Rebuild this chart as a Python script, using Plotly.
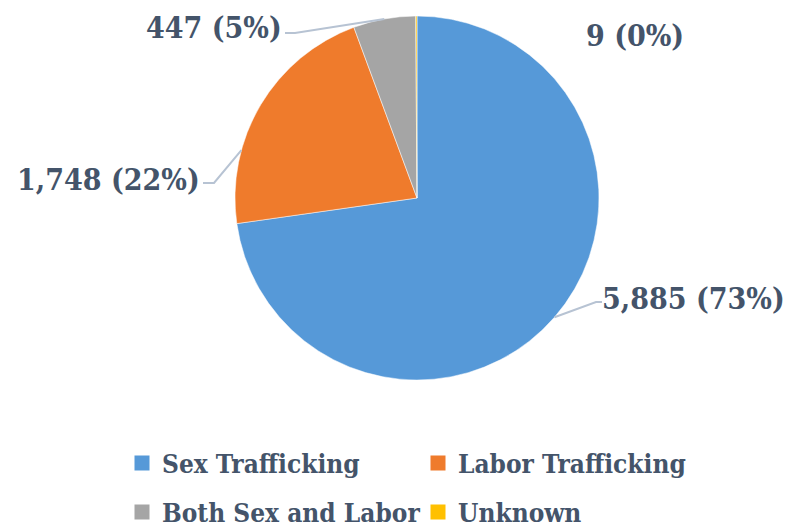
import math
import plotly.graph_objects as go

# ---- data ----
labels = ["Sex Trafficking", "Labor Trafficking", "Both Sex and Labor", "Unknown"]
values = [5885, 1748, 447, 9]
pct_text = ["73%", "22%", "5%", "0%"]
colors = ["#5699D8", "#EF7B2C", "#A5A5A5", "#FFC000"]

# ---- layout constants ----
W, H = 791, 529
OFF = 8  # page body margin
CX, CY, R = 417, 198, 182
TEXT_COLOR = "#44546A"
FONT = "DejaVu Serif Condensed, DejaVu Serif, serif"
LINE_COLOR = "#B7C3D3"

# label placements (screen pixels): anchor point, anchors, leader fraction within slice, elbow x
label_pos = [
    dict(x=600, y=298, xanchor="left", yanchor="middle", frac=0.5, elbow=596, ly=302),
    dict(x=202, y=179, xanchor="right", yanchor="middle", frac=0.3, elbow=214, ly=183),
    dict(x=284, y=8, xanchor="right", yanchor="top", frac=0.5, elbow=295, ly=33),
    dict(x=635, y=36, xanchor="center", yanchor="middle", frac=None, elbow=None, ly=None),
]
legend_rows = [0, 0, 1, 1]


def px(x):
    return (x - OFF) / W


def py(y):
    return 1 - (y - OFF) / H


fig = go.Figure()
fig.add_trace(go.Pie(
    labels=labels,
    values=values,
    sort=False,
    direction="clockwise",
    rotation=0,
    textinfo="none",
    hoverinfo="label+value+percent",
    marker=dict(colors=colors, line=dict(color="white", width=0.5)),
    domain=dict(x=[px(CX - R), px(CX + R)], y=[py(CY + R), py(CY - R)]),
    showlegend=False,
))

# legend entries (two rows, as two legends)
for lab, col, row in zip(labels, colors, legend_rows):
    fig.add_trace(go.Scatter(
        x=[None], y=[None], mode="markers", name=lab,
        marker=dict(symbol="square", size=15, color=col),
        legend="legend" if row == 0 else "legend2",
        hoverinfo="skip",
    ))

total = sum(values)
cum = 0.0
annotations = []
shapes = []
for i, v in enumerate(values):
    start = cum / total * 360
    end = (cum + v) / total * 360
    cum += v
    lp = label_pos[i]
    annotations.append(dict(
        x=px(lp["x"]), y=py(lp["y"]), xref="paper", yref="paper",
        text=f"<b>{v:,} ({pct_text[i]})</b>", showarrow=False,
        xanchor=lp["xanchor"], yanchor=lp["yanchor"],
        font=dict(family=FONT, size=30, color=TEXT_COLOR),
    ))
    if lp["frac"] is not None:
        ang = math.radians(start + (end - start) * lp["frac"])
        ex = CX + R * math.sin(ang)
        ey = CY - R * math.cos(ang)
        sx = lp["x"] + (2 if lp["xanchor"] == "left" else 1)
        sy = lp["ly"]
        path = (f"M {px(sx)},{py(sy)} L {px(lp['elbow'])},{py(sy)} "
                f"L {px(ex)},{py(ey)}")
        shapes.append(dict(type="path", path=path, xref="paper", yref="paper",
                           line=dict(color=LINE_COLOR, width=2)))

legend_common = dict(
    orientation="h", xanchor="left", yanchor="middle",
    entrywidth=251, entrywidthmode="pixels",
    font=dict(family=FONT, size=26, color=TEXT_COLOR, weight="bold"),
    traceorder="normal", bgcolor="rgba(0,0,0,0)",
)

fig.update_layout(
    width=W, height=H,
    margin=dict(l=0, r=0, t=0, b=0),
    paper_bgcolor="white",
    plot_bgcolor="white",
    annotations=annotations,
    shapes=shapes,
    xaxis=dict(visible=False),
    yaxis=dict(visible=False),
    legend=dict(x=px(122), y=py(463), **legend_common),
    legend2=dict(x=px(122), y=py(512), **legend_common),
)

fig.write_html("out.html")
